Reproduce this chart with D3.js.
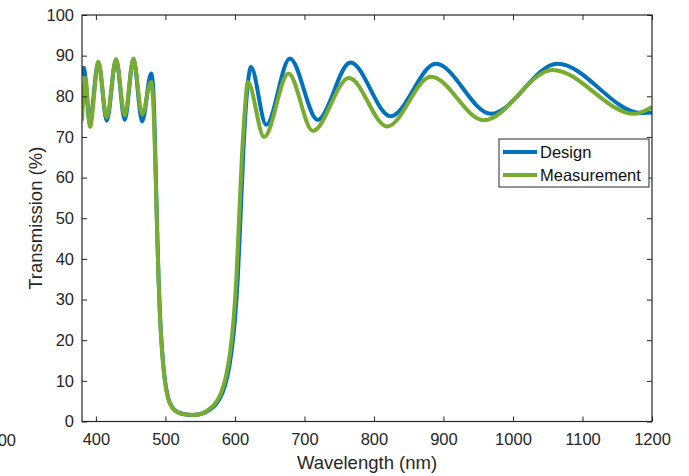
<!DOCTYPE html>
<html>
<head>
<meta charset="utf-8">
<script src="https://cdn.jsdelivr.net/npm/d3@7"></script>
<style>
body { margin: 0; background: #fff; }
svg { display: block; font-family: 'Liberation Sans', Arial, sans-serif; }
</style>
</head>
<body>
<div id="chart"></div>
<script>
'use strict';

// wavelength (nm) / transmission (%)
var designWl = [380, 382.5, 391, 403.5, 415.6, 429, 441.5, 454, 466.5, 479.5,
	482, 484, 486, 488, 490, 492, 495, 499, 504, 510, 518, 528, 540, 552, 563, 573,
	582, 589, 595, 600, 604, 608, 612, 616, 619.5, 623,
	645, 679, 719, 766, 824, 889, 968, 1064, 1184, 1200];
var designT = [85, 87, 73.8, 88.4, 74.0, 89.0, 74.2, 89.2, 73.8, 85.6,
	83, 75, 62, 48, 36, 27, 18, 10.5, 5.8, 3.5, 2.3, 1.8, 1.6, 1.9, 2.8, 4.3,
	7, 11, 17, 25, 35, 50, 66, 78, 84.5, 87.2,
	73, 89.3, 74.2, 88.3, 75.1, 88.0, 75.7, 88.0, 75.9, 76.0];

var measWl = [380, 385, 391.5, 403.5, 415.6, 429, 441.5, 454, 466.5, 479.5,
	482, 484, 486, 488, 490, 492, 495, 499, 504, 510, 518, 528, 540, 552, 562, 572,
	580, 587, 593, 598, 602, 606, 610, 614, 618.5,
	642, 677, 712, 764, 819, 882, 958, 1057, 1174.5, 1200];
var measT = [74, 84.5, 72.5, 88.5, 74.8, 89.2, 75.3, 89.3, 75.5, 83.5,
	80, 72, 60, 47, 35.5, 26.5, 17.5, 10.2, 5.6, 3.4, 2.2, 1.7, 1.6, 1.9, 2.9, 4.5,
	7, 11, 17, 25, 35, 50, 65, 76, 83.5,
	70, 85.6, 71.5, 84.5, 72.6, 84.8, 74.1, 86.5, 75.7, 77.4];

var seriesNames = ['Design', 'Measurement'];
var seriesColors = ['#0072BD', '#77AC30'];
var xTicks = [400, 500, 600, 700, 800, 900, 1000, 1100, 1200];
var yTicks = [0, 10, 20, 30, 40, 50, 60, 70, 80, 90, 100];

var W = 689, H = 476;
var margin = {top: 15, right: 37, bottom: 54.5, left: 82};
var width = W - margin.left - margin.right;
var height = H - margin.top - margin.bottom;
var axisColor = '#262626';

var svg = d3.select('#chart').append('svg')
	.attr('width', W)
	.attr('height', H);

var g = svg.append('g').attr('transform', 'translate(' + margin.left + ',' + margin.top + ')');

var xscale = d3.scaleLinear().domain([380, 1200]).range([0, width]);
var yscale = d3.scaleLinear().domain([0, 100]).range([height, 0]);

svg.append('defs').append('clipPath').attr('id', 'plotclip')
	.append('rect').attr('width', width).attr('height', height);

var series = [
	{name: seriesNames[0], color: seriesColors[0], values: d3.zip(designWl, designT)},
	{name: seriesNames[1], color: seriesColors[1], values: d3.zip(measWl, measT)}
];

var line = d3.line()
	.curve(d3.curveMonotoneX)
	.x(function(d) { return xscale(d[0]); })
	.y(function(d) { return yscale(d[1]); });

g.append('g').attr('clip-path', 'url(#plotclip)')
	.selectAll('path')
	.data(series)
	.enter().append('path')
	.attr('d', function(d) { return line(d.values); })
	.attr('fill', 'none')
	.attr('stroke', function(d) { return d.color; })
	.attr('stroke-width', 4)
	.attr('stroke-linejoin', 'round');

var styleAxis = function(sel, labels) {
	sel.select('.domain').remove();
	sel.selectAll('.tick line').attr('stroke', axisColor);
	if (labels) {
		sel.selectAll('.tick text').attr('fill', axisColor).style('font-size', '16.5px');
	} else {
		sel.selectAll('.tick text').remove();
	}
};

var fmt = d3.format('d');

g.append('g')
	.attr('transform', 'translate(0,' + height + ')')
	.call(d3.axisBottom(xscale).tickValues(xTicks).tickFormat(fmt).tickSizeInner(-5).tickSizeOuter(0).tickPadding(12))
	.call(styleAxis, true);

g.append('g')
	.call(d3.axisTop(xscale).tickValues(xTicks).tickSizeInner(-5).tickSizeOuter(0))
	.call(styleAxis, false);

g.append('g')
	.call(d3.axisLeft(yscale).tickValues(yTicks).tickFormat(fmt).tickSizeInner(-5).tickSizeOuter(0).tickPadding(8))
	.call(styleAxis, true);

g.append('g')
	.attr('transform', 'translate(' + width + ',0)')
	.call(d3.axisRight(yscale).tickValues(yTicks).tickSizeInner(-5).tickSizeOuter(0))
	.call(styleAxis, false);

g.append('rect')
	.attr('width', width)
	.attr('height', height)
	.attr('fill', 'none')
	.attr('stroke', axisColor)
	.attr('stroke-width', 1.2);

// stray tick label left over at the cropped left edge
svg.append('text')
	.attr('x', 16)
	.attr('y', 446)
	.attr('text-anchor', 'end')
	.attr('fill', axisColor)
	.style('font-size', '16.5px')
	.text('300');

svg.append('text')
	.attr('x', margin.left + width / 2)
	.attr('y', 469)
	.attr('text-anchor', 'middle')
	.attr('fill', axisColor)
	.style('font-size', '18.5px')
	.text('Wavelength (nm)');

svg.append('text')
	.attr('transform', 'translate(41.5,' + (margin.top + height / 2) + ') rotate(-90)')
	.attr('text-anchor', 'middle')
	.attr('fill', axisColor)
	.style('font-size', '18.5px')
	.text('Transmission (%)');

// legend
var legend = g.append('g')
	.attr('transform', 'translate(' + (width - 153) + ',' + 124 + ')');

legend.append('rect')
	.attr('width', 150)
	.attr('height', 48)
	.attr('fill', '#fff')
	.attr('stroke', axisColor)
	.attr('stroke-width', 1);

var item = legend.selectAll('.item')
	.data(series)
	.enter().append('g')
	.attr('class', 'item')
	.attr('transform', function(d, i) { return 'translate(0,' + (13 + i * 23) + ')'; });

item.append('line')
	.attr('x1', 4)
	.attr('x2', 38)
	.attr('stroke', function(d) { return d.color; })
	.attr('stroke-width', 4);

item.append('text')
	.attr('x', 41)
	.attr('dy', '0.35em')
	.attr('fill', '#111')
	.style('font-size', '16.5px')
	.text(function(d) { return d.name; });
</script>
</body>
</html>
